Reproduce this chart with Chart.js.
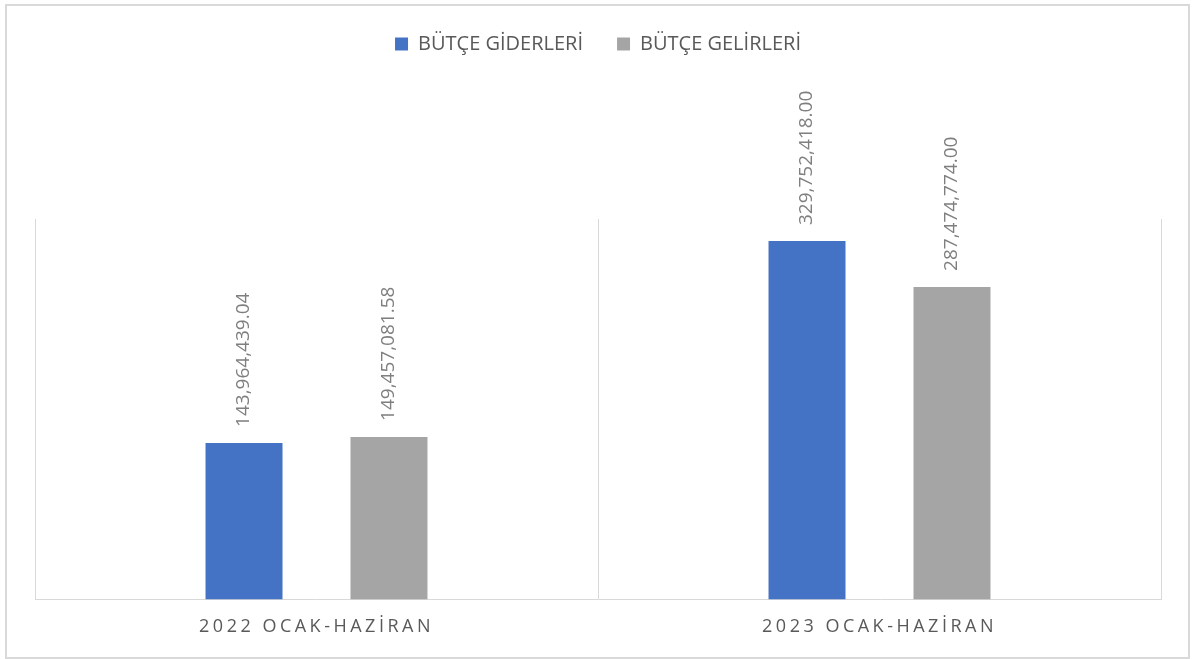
<!DOCTYPE html>
<html lang="tr">
<head>
<meta charset="utf-8">
<title>Bütçe Giderleri / Gelirleri</title>
<script src="https://cdn.jsdelivr.net/npm/chart.js@4.4.1/dist/chart.umd.min.js"></script>
<style>
    html, body {
        margin: 0;
        padding: 0;
        background: #ffffff;
    }
    .wrap {
        position: relative;
        width: 1192px;
        height: 659px;
        overflow: hidden;
    }
    .frame {
        position: absolute;
        left: 5px;
        top: 4px;
        width: 1185px;
        height: 655px;
        border: 2px solid #d9d9d9;
        box-sizing: border-box;
    }
    .chart-box {
        position: absolute;
        left: 0;
        top: 0;
        width: 1192px;
        height: 659px;
    }
</style>
</head>
<body>
<div class="wrap">
    <div class="frame"></div>
    <div class="chart-box"><canvas id="budgetChart"></canvas></div>
</div>
<script>
// Chart data
const periods = ['2022 OCAK-HAZİRAN', '2023 OCAK-HAZİRAN'];
const seriesNames = ['BÜTÇE GİDERLERİ', 'BÜTÇE GELİRLERİ'];
const giderler = [143964439.04, 329752418.00];
const gelirler = [149457081.58, 287474774.00];
const valueMax = 350000000;

document.addEventListener('DOMContentLoaded', function() {
    const canvas = document.getElementById('budgetChart');

    Chart.defaults.font.family = "'Open Sans', sans-serif";
    Chart.defaults.color = '#595959';

    // Category axis with spaced-out tick letters (like the Excel original)
    class SpacedCategoryScale extends Chart.CategoryScale {
        drawLabels(chartArea) {
            const ctx = this.ctx;
            ctx.save();
            ctx.letterSpacing = '3.5px';
            super.drawLabels(chartArea);
            ctx.restore();
        }
    }
    SpacedCategoryScale.id = 'spacedCategory';
    SpacedCategoryScale.defaults = Chart.CategoryScale.defaults;
    Chart.register(SpacedCategoryScale);

    // Leave room between the legend and the plot for the rotated labels
    const legendGap = {
        id: 'legendGap',
        beforeLayout(chart) {
            const legend = chart.legend;
            if (legend && !legend._gapPatched) {
                const fit = legend.fit;
                legend.fit = function() {
                    fit.call(this);
                    this.height += 155;
                };
                legend._gapPatched = true;
            }
        }
    };

    // Vertical value labels above each bar
    const fmt = new Intl.NumberFormat('en-US', {
        minimumFractionDigits: 2,
        maximumFractionDigits: 2
    });
    const barLabels = {
        id: 'barLabels',
        afterDatasetsDraw(chart) {
            const ctx = chart.ctx;
            chart.data.datasets.forEach((ds, i) => {
                const meta = chart.getDatasetMeta(i);
                meta.data.forEach((bar, j) => {
                    ctx.save();
                    ctx.translate(bar.x, bar.y - 16);
                    ctx.rotate(-Math.PI / 2);
                    ctx.font = "19px 'Open Sans', sans-serif";
                    ctx.fillStyle = '#7f7f7f';
                    ctx.textAlign = 'left';
                    ctx.textBaseline = 'middle';
                    ctx.fillText(fmt.format(ds.data[j]), 0, 0);
                    ctx.restore();
                });
            });
        }
    };

    new Chart(canvas.getContext('2d'), {
        type: 'bar',
        data: {
            labels: periods,
            datasets: [{
                label: seriesNames[0],
                data: giderler,
                backgroundColor: '#4472c4',
                categoryPercentage: 0.515,
                barPercentage: 0.531
            }, {
                label: seriesNames[1],
                data: gelirler,
                backgroundColor: '#a5a5a5',
                categoryPercentage: 0.515,
                barPercentage: 0.531
            }]
        },
        options: {
            responsive: true,
            maintainAspectRatio: false,
            animation: false,
            layout: {
                padding: { top: 0, left: 35, right: 31, bottom: 4 }
            },
            plugins: {
                legend: {
                    display: true,
                    position: 'top',
                    labels: {
                        boxWidth: 13,
                        boxHeight: 13,
                        padding: 34,
                        color: '#595959',
                        font: { size: 20 }
                    }
                },
                tooltip: { enabled: false }
            },
            scales: {
                x: {
                    type: 'spacedCategory',
                    offset: true,
                    grid: {
                        offset: true,
                        color: '#d9d9d9',
                        lineWidth: 1,
                        drawTicks: false
                    },
                    border: { display: true, color: '#d9d9d9', width: 1 },
                    ticks: {
                        padding: 17,
                        color: '#595959',
                        font: { size: 18 }
                    }
                },
                y: {
                    display: false,
                    min: 0,
                    max: valueMax
                }
            }
        },
        plugins: [legendGap, barLabels]
    });
});
</script>
</body>
</html>
